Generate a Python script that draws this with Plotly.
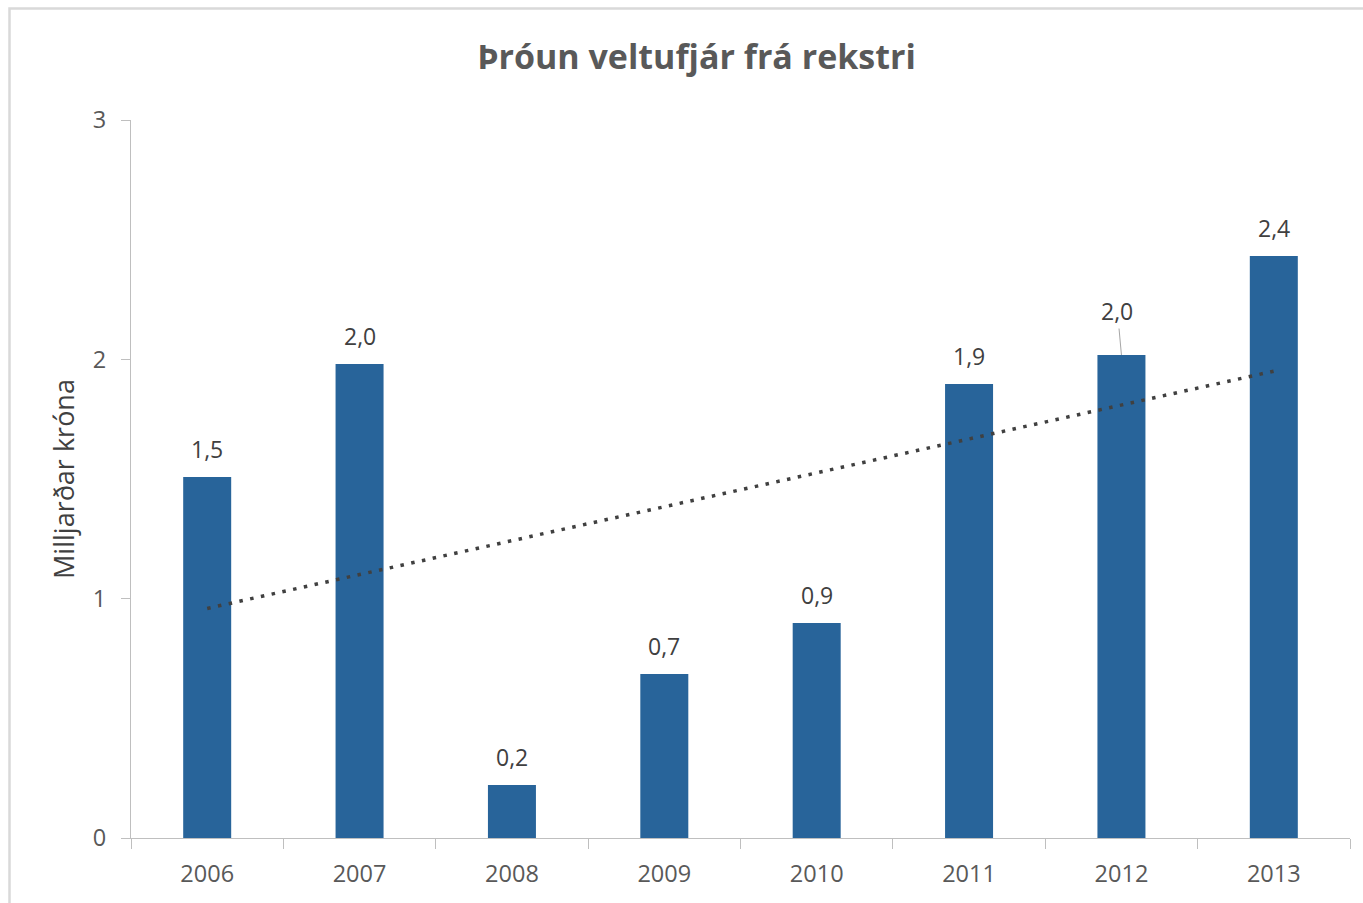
import numpy as np
import plotly.graph_objects as go

years = ["2006", "2007", "2008", "2009", "2010", "2011", "2012", "2013"]
values = [1.508, 1.98, 0.221, 0.685, 0.898, 1.897, 2.018, 2.432]
labels = ["1,5", "2,0", "0,2", "0,7", "0,9", "1,9", "2,0", "2,4"]
y_ticks = [0, 1, 2, 3]

W, H = 1363, 903
L, R, T, B = 131, 13, 120, 65
pw, ph = W - L - R, H - T - B

idx = np.arange(len(values))
slope, intercept = np.polyfit(idx, values, 1)
trend = slope * idx + intercept

FONT = "Open Sans"
fig = go.Figure()
fig.add_trace(go.Bar(x=years, y=values, marker=dict(color="#28649a", line=dict(width=0)),
                     width=0.315, hoverinfo="skip"))
fig.add_trace(go.Scatter(x=years, y=trend, mode="lines",
                         line=dict(color="#404040", width=3.5, dash="3.5px,7.5px"),
                         hoverinfo="skip"))

for i, (v, lab) in enumerate(zip(values, labels)):
    if years[i] == "2012":
        fig.add_annotation(x=i, y=v, text=lab, showarrow=True, arrowhead=0, arrowwidth=1,
                           arrowcolor="#a6a6a6", ax=-4, ay=-44, standoff=0,
                           font=dict(family=FONT, size=23, color="#404040"))
    else:
        fig.add_annotation(x=i, y=v, text=lab, showarrow=False, yshift=28,
                           font=dict(family=FONT, size=23, color="#404040"))

# chart border (only left and top visible in the frame)
fig.add_shape(type="rect", xref="paper", yref="paper",
              x0=(9.5 - L) / pw, x1=(1380 - L) / pw,
              y0=(H - B - 920) / ph, y1=(H - B - 8.5) / ph,
              line=dict(color="#d9d9d9", width=2.5), fillcolor="rgba(0,0,0,0)", layer="below")

fig.update_layout(
    width=W, height=H,
    margin=dict(l=L, r=R, t=T, b=B),
    paper_bgcolor="white", plot_bgcolor="white",
    showlegend=False,
    title=dict(text="<b>Þróun veltufjár frá rekstri</b>", x=0.511, xanchor="center",
               y=1 - 57 / H, yanchor="middle",
               font=dict(family=FONT, size=34, color="#595959")),
    xaxis=dict(type="category", showline=True, linecolor="#bfbfbf", linewidth=1.3,
               ticks="outside", ticklen=10, tickcolor="#bfbfbf", tickwidth=1.3,
               tickson="boundaries", showgrid=False, zeroline=False,
               ticklabelstandoff=15,
               tickfont=dict(family=FONT, size=23.5, color="#595959"),
               range=[-0.5, 7.5]),
    yaxis=dict(range=[0, 3], tickvals=y_ticks, showline=True, linecolor="#bfbfbf", linewidth=1.3,
               ticks="outside", ticklen=9, tickcolor="#bfbfbf", tickwidth=1.3,
               showgrid=False, zeroline=False, ticklabelstandoff=10,
               tickfont=dict(family=FONT, size=23.5, color="#595959"),
               title=dict(text="Milljarðar króna", standoff=10,
                          font=dict(family=FONT, size=27, color="#404040"))),
)

fig.write_html("out.html", config={"displayModeBar": False},
               post_script="document.body.style.margin='0';")
